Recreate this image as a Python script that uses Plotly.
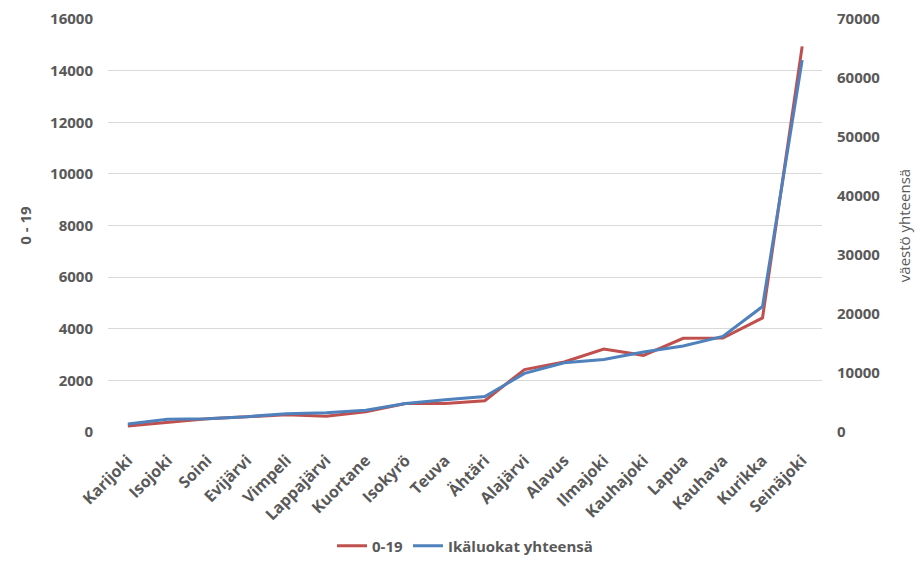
import plotly.graph_objects as go

municipalities = ["Karijoki", "Isojoki", "Soini", "Evijärvi", "Vimpeli", "Lappajärvi",
                  "Kuortane", "Isokyrö", "Teuva", "Ähtäri", "Alajärvi", "Alavus",
                  "Ilmajoki", "Kauhajoki", "Lapua", "Kauhava", "Kurikka", "Seinäjoki"]
age_0_19 = [230, 385, 515, 590, 670, 615, 785, 1100, 1100, 1210, 2420, 2715,
            3215, 2970, 3630, 3640, 4420, 14940]
total_pop = [1350, 2140, 2260, 2600, 3100, 3270, 3700, 4830, 5450, 6000, 9930, 11720,
             12290, 13570, 14580, 16210, 21260, 63030]

FONT = "Open Sans"
GRAY = "#595959"

fig = go.Figure()
fig.add_trace(go.Scatter(x=municipalities, y=age_0_19, name="0-19", mode="lines",
                         line=dict(color="#C0504D", width=3), yaxis="y"))
fig.add_trace(go.Scatter(x=municipalities, y=total_pop, name="Ikäluokat yhteensä", mode="lines",
                         line=dict(color="#4F81BD", width=3), yaxis="y2"))

fig.update_layout(
    width=908, height=555,
    margin=dict(l=100, r=94, t=11, b=131),
    paper_bgcolor="white", plot_bgcolor="white",
    font=dict(family=FONT, color=GRAY, size=15),
    xaxis=dict(tickangle=-45, showgrid=False, showline=False, ticks="",
               range=[-0.5, len(municipalities) - 0.5], automargin=False,
               ticklabelstandoff=15,
               tickfont=dict(family=FONT, size=16, color=GRAY, weight=700)),
    yaxis=dict(range=[0, 16000], dtick=2000, tickformat="d", showgrid=True, gridcolor="#D9D9D9",
               gridwidth=1, zeroline=False, showline=False, ticks="", automargin=False,
               ticklabelstandoff=14, ticklabeloverflow="allow",
               tickfont=dict(family=FONT, size=15, color=GRAY, weight=700),
               title=dict(text="0 - 19", font=dict(family=FONT, size=15, color=GRAY, weight=700),
                          standoff=14)),
    yaxis2=dict(range=[0, 70000], dtick=10000, tickformat="d", overlaying="y", side="right",
                showgrid=False, zeroline=False, showline=False, ticks="", automargin=False,
                ticklabelstandoff=14, ticklabeloverflow="allow",
                tickfont=dict(family=FONT, size=15, color=GRAY, weight=700),
                title=dict(text="väestö yhteensä", font=dict(family=FONT, size=15, color=GRAY),
                           standoff=20)),
    legend=dict(orientation="h", x=0.5, xanchor="center", xref="paper",
                y=0.0306, yanchor="middle", yref="container",
                font=dict(family=FONT, size=15, color=GRAY, weight=700)),
    showlegend=True,
)

fig.write_html("out.html")
